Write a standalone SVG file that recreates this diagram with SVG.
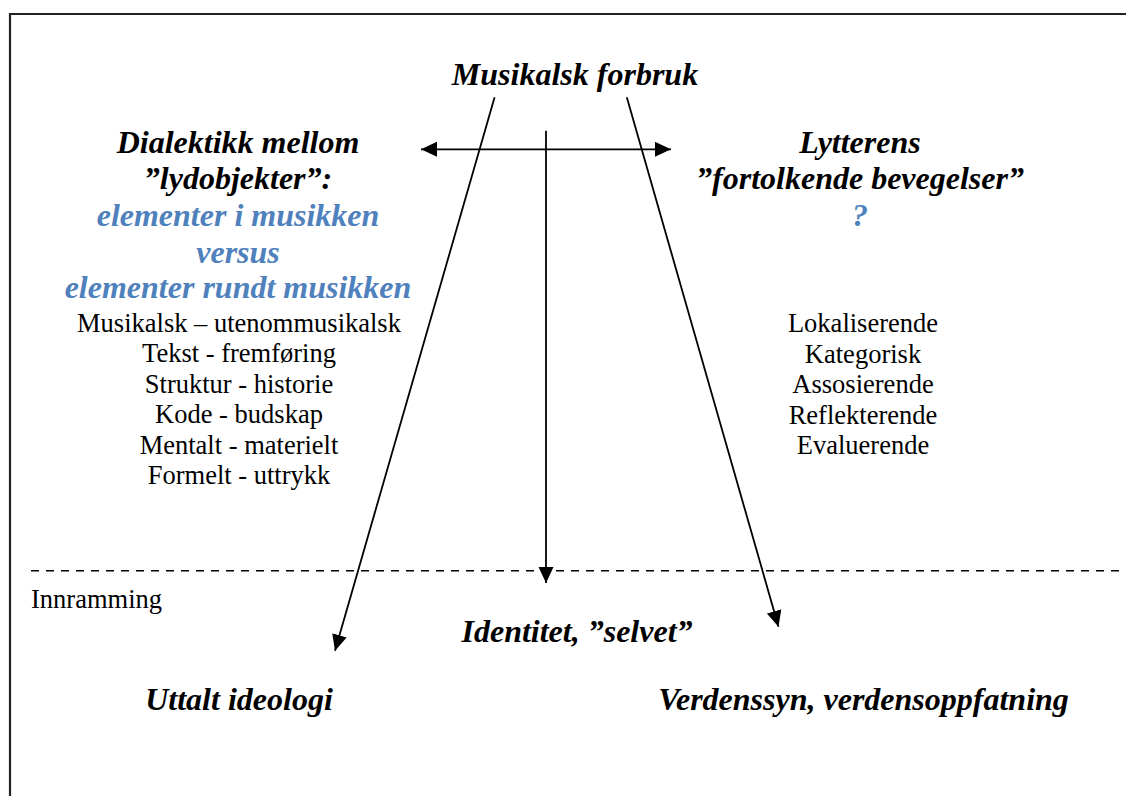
<svg xmlns="http://www.w3.org/2000/svg" width="1126" height="796" viewBox="0 0 1126 796">
<style>
.h{font-family:"Liberation Serif","Times New Roman",serif;font-size:32px;font-weight:bold;font-style:italic;fill:#000;text-anchor:middle}
.b{fill:#4F81BD}
.r{font-family:"Liberation Serif","Times New Roman",serif;font-size:26.5px;fill:#000;text-anchor:middle}
.ln{stroke:#000;stroke-width:1.8;fill:none}
</style>
<defs>
<marker id="ah" markerUnits="userSpaceOnUse" markerWidth="18" markerHeight="16" refX="16" refY="7.5" orient="auto-start-reverse">
<path d="M0,0 L16,7.5 L0,15 Z" fill="#000"/>
</marker>
</defs>
<rect width="1126" height="796" fill="#fff"/>
<path d="M10,800 V14 H1130" fill="none" stroke="#222" stroke-width="2.2"/>
<line x1="31" y1="570.7" x2="1126" y2="570.7" stroke="#000" stroke-width="1.5" stroke-dasharray="8,7"/>

<g id="connectors">
<line class="ln" x1="494.6" y1="97.3" x2="335" y2="650.7" marker-end="url(#ah)"/>
<line class="ln" x1="626.8" y1="97.3" x2="778.5" y2="626.7" marker-end="url(#ah)"/>
<line class="ln" x1="546" y1="130.7" x2="546" y2="583" marker-end="url(#ah)"/>
<line class="ln" x1="421" y1="149.3" x2="671" y2="149.3" marker-start="url(#ah)" marker-end="url(#ah)"/>
</g>

<g id="node-forbruk"><text class="h" x="575" y="85">Musikalsk forbruk</text></g>

<g id="node-dialektikk">
<text class="h" x="238" y="152.7">Dialektikk mellom</text>
<text class="h" x="238" y="189.3">”lydobjekter”:</text>
<text class="h b" x="238" y="226">elementer i musikken</text>
<text class="h b" x="238" y="262.7">versus</text>
<text class="h b" x="238" y="298.3">elementer rundt musikken</text>
<text class="r" x="239" y="331.7">Musikalsk – utenommusikalsk</text>
<text class="r" x="239" y="362">Tekst - fremføring</text>
<text class="r" x="239" y="392.7">Struktur - historie</text>
<text class="r" x="239" y="423">Kode - budskap</text>
<text class="r" x="239" y="454">Mentalt - materielt</text>
<text class="r" x="239" y="484">Formelt - uttrykk</text>
</g>

<g id="node-lytterens">
<text class="h" x="860" y="152.7">Lytterens</text>
<text class="h" x="860" y="189.3">”fortolkende bevegelser”</text>
<text class="h b" x="860" y="226">?</text>
<text class="r" x="863" y="331.7">Lokaliserende</text>
<text class="r" x="863" y="362.7">Kategorisk</text>
<text class="r" x="863" y="393.3">Assosierende</text>
<text class="r" x="863" y="424">Reflekterende</text>
<text class="r" x="863" y="454">Evaluerende</text>
</g>

<g id="node-innramming"><text class="r" x="31" y="608" style="text-anchor:start">Innramming</text></g>
<g id="node-identitet"><text class="h" x="577" y="641.7">Identitet, ”selvet”</text></g>
<g id="node-ideologi"><text class="h" x="239" y="710">Uttalt ideologi</text></g>
<g id="node-verdenssyn"><text class="h" x="863.5" y="710">Verdenssyn, verdensoppfatning</text></g>
</svg>
